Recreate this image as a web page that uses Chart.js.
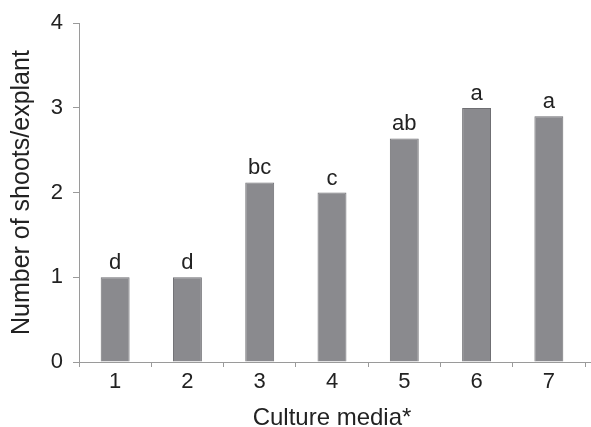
<!DOCTYPE html>
<html>
<head>
<meta charset="utf-8">
<script src="https://cdn.jsdelivr.net/npm/chart.js@4/dist/chart.umd.min.js"></script>
<style>
  html, body { margin: 0; padding: 0; background: #fff; }
  #wrap { width: 591px; height: 427px; }
</style>
</head>
<body>
<div id="wrap"><canvas id="c" width="591" height="427"></canvas></div>
<script>
// Culture media treatments and mean number of shoots per explant
const media = ['1', '2', '3', '4', '5', '6', '7'];
const shoots = [1.0, 1.0, 2.12, 2.0, 2.64, 3.0, 2.9];
// Significance groups shown above each bar
const groups = ['d', 'd', 'bc', 'c', 'ab', 'a', 'a'];
const yTicks = [0, 1, 2, 3, 4];

const FONT = '"Liberation Sans", Arial, Helvetica, sans-serif';
const AXIS = '#9a9a9a';

// Draws the group letters just above the top of each bar
const groupLetters = {
  id: 'groupLetters',
  afterDatasetsDraw(chart) {
    const ctx = chart.ctx;
    const meta = chart.getDatasetMeta(0);
    ctx.save();
    ctx.font = '22px ' + FONT;
    ctx.fillStyle = '#222';
    ctx.textAlign = 'center';
    ctx.textBaseline = 'alphabetic';
    meta.data.forEach((bar, i) => {
      ctx.fillText(groups[i], bar.x, bar.y - 8);
    });
    ctx.restore();
  }
};

// Lets the baseline run a little past both ends of the plot area
const axisOverhang = {
  id: 'axisOverhang',
  afterDraw(chart) {
    const { ctx, chartArea, width } = chart;
    const y = Math.round(chart.scales.y.getPixelForValue(0)) + 0.5;
    ctx.save();
    ctx.strokeStyle = AXIS;
    ctx.lineWidth = 1;
    ctx.beginPath();
    ctx.moveTo(chartArea.left - 2, y);
    ctx.lineTo(width, y);
    ctx.stroke();
    ctx.restore();
  }
};

new Chart(document.getElementById('c'), {
  type: 'bar',
  data: {
    labels: media,
    datasets: [{
      data: shoots,
      backgroundColor: '#8a8a8e',
      borderColor: '#6f6f73',
      borderWidth: 1,
      barPercentage: 0.4,
      categoryPercentage: 1.0
    }]
  },
  options: {
    responsive: false,
    animation: false,
    layout: { padding: { top: 19, right: 6, bottom: 0, left: 0 } },
    plugins: {
      legend: { display: false },
      tooltip: { enabled: false }
    },
    scales: {
      x: {
        grid: { display: true, drawOnChartArea: false, drawTicks: true, tickLength: 5, color: AXIS, offset: true },
        border: { display: true, color: AXIS, width: 1 },
        ticks: { color: '#222', font: { size: 22, family: FONT }, padding: 2 },
        title: {
          display: true,
          text: 'Culture media*',
          color: '#222',
          font: { size: 24, family: FONT, lineHeight: 1 },
          padding: { top: 0, bottom: -3 }
        },
        afterFit(scale) { scale.height = 65; }
      },
      y: {
        min: 0,
        max: 4,
        afterBuildTicks(scale) { scale.ticks = yTicks.map(v => ({ value: v })); },
        grid: { display: true, drawOnChartArea: false, drawTicks: true, tickLength: 6, color: AXIS },
        border: { display: true, color: AXIS, width: 1 },
        ticks: { color: '#222', font: { size: 22, family: FONT }, padding: 10 },
        title: {
          display: true,
          text: 'Number of shoots/explant',
          color: '#222',
          font: { size: 25, family: FONT, lineHeight: 1 },
          padding: { top: 10, bottom: 0 }
        },
        afterFit(scale) { scale.width = 79; }
      }
    }
  },
  plugins: [groupLetters, axisOverhang]
});
</script>
</body>
</html>
